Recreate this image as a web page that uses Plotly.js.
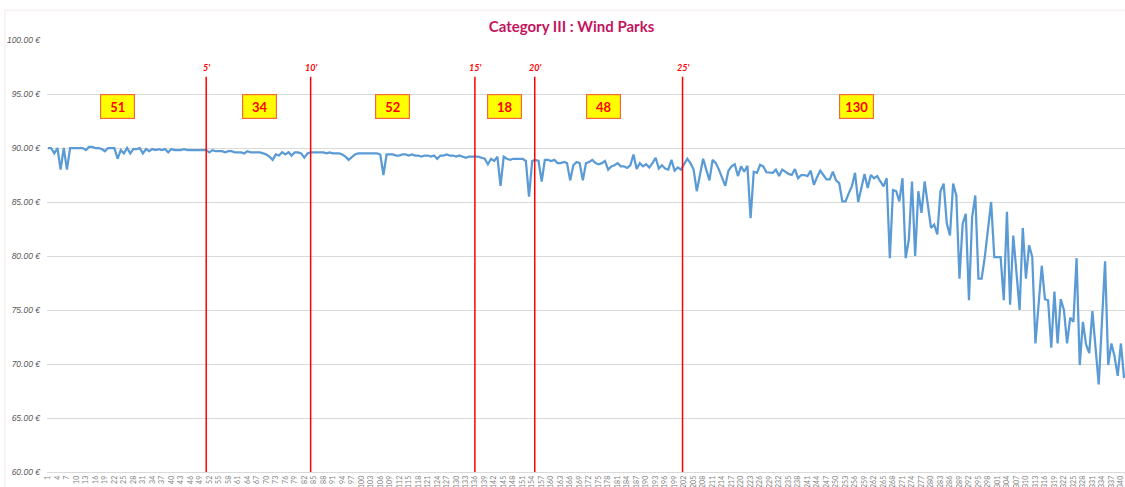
<!DOCTYPE html>
<html>
<head>
<meta charset="utf-8">
<script src="https://cdn.plot.ly/plotly-3.0.1.min.js"></script>
<style>
  html, body { margin: 0; padding: 0; background: #ffffff; }
  #chart { width: 1125px; height: 487px; }
</style>
</head>
<body>
<div id="chart"></div>
<script>
// ---- data ----
const chartTitle = "Category III : Wind Parks";

const prices = [
  // 1-51
  90.0, 90.0, 89.5, 90.0, 88.0, 90.0, 88.0, 90.0, 90.0, 90.0,
  90.0, 90.0, 89.8, 90.1, 90.1, 90.0, 90.0, 89.9, 89.7, 90.0,
  90.0, 90.0, 89.0, 89.8, 89.5, 90.0, 89.5, 89.9, 89.9, 90.0,
  89.5, 89.9, 89.7, 89.9, 89.8, 89.9, 89.8, 89.9, 89.6, 89.9,
  89.8, 89.8, 89.8, 89.9, 89.8, 89.8, 89.8, 89.8, 89.8, 89.8,
  89.8,
  // 52-85
  89.6, 89.8, 89.7, 89.7, 89.7, 89.6, 89.7, 89.7, 89.6, 89.6,
  89.6, 89.5, 89.7, 89.6, 89.6, 89.6, 89.6, 89.5, 89.4, 89.2,
  88.9, 89.4, 89.3, 89.6, 89.4, 89.6, 89.3, 89.6, 89.6, 89.5,
  89.1, 89.5, 89.6, 89.6,
  // 86-137
  89.6, 89.6, 89.6, 89.5, 89.6, 89.5, 89.5, 89.5, 89.4, 89.2,
  88.9, 89.2, 89.4, 89.5, 89.5, 89.5, 89.5, 89.5, 89.5, 89.5,
  89.4, 87.5, 89.4, 89.4, 89.4, 89.3, 89.3, 89.4, 89.4, 89.3,
  89.4, 89.3, 89.3, 89.2, 89.3, 89.3, 89.2, 89.3, 89.0, 89.3,
  89.3, 89.4, 89.3, 89.3, 89.2, 89.3, 89.2, 89.1, 89.2, 89.2,
  89.2, 89.2,
  // 138-155
  89.1, 89.0, 88.5, 89.0, 88.8, 89.2, 86.5, 89.2, 89.0, 88.9,
  89.0, 89.0, 89.0, 89.0, 88.8, 85.5, 88.8, 88.9,
  // 156-203
  88.8, 86.9, 88.9, 88.9, 88.8, 88.9, 88.6, 88.6, 88.7, 88.6,
  87.0, 88.4, 88.7, 88.6, 87.0, 88.6, 88.7, 88.9, 88.6, 88.5,
  88.6, 88.8, 88.0, 88.3, 88.4, 88.6, 88.3, 88.3, 88.15, 88.4,
  89.4, 88.05, 88.6, 88.3, 88.5, 88.2, 88.6, 89.1, 88.1, 88.4,
  88.1, 88.0, 88.9, 87.9, 88.2, 88.0, 88.5, 89.0,
  // 204-223
  88.6, 88.0, 86.0, 87.5, 89.0, 88.0, 87.0, 88.9, 88.6, 88.0,
  87.2, 86.5, 87.9, 88.3, 88.5, 87.4, 88.3, 87.8, 88.35, 83.5,
  // 224-283
  87.8, 87.7, 88.45, 88.3, 87.75, 87.7, 87.7, 88.0, 87.4, 88.0,
  87.8, 87.6, 87.5, 88.05, 87.2, 87.5, 87.5, 87.4, 87.9, 86.6,
  87.3, 87.9, 87.5, 87.1, 87.1, 87.8, 87.0, 86.75, 85.05, 85.05,
  85.8, 86.45, 87.7, 85.0, 86.3, 87.6, 86.3, 87.5, 87.2, 87.4,
  86.9, 86.45, 87.2, 79.8, 86.1, 86.0, 85.05, 87.2, 79.8, 81.5,
  86.9, 80.0, 86.0, 84.0, 86.9, 84.6, 82.6, 82.9, 82.0, 86.0,
  // 284-341
  86.7, 83.0, 81.9, 86.7, 85.6, 77.9, 83.0, 83.9, 75.9, 83.6,
  85.6, 77.9, 77.9, 79.9, 82.7, 85.0, 79.9, 79.9, 79.9, 75.9,
  84.1, 75.5, 81.9, 78.5, 75.0, 82.6, 77.9, 81.0, 79.9, 71.9,
  75.5, 79.1, 76.0, 75.9, 71.5, 76.7, 71.9, 76.0, 75.0, 71.9,
  74.3, 73.9, 79.8, 69.9, 73.9, 71.8, 71.0, 74.9, 71.5, 68.1,
  73.8, 79.5, 69.9, 71.9, 70.7, 68.9, 71.9, 68.7
];

const segmentCounts = ["51", "34", "52", "18", "48", "130"];
const minuteLabels = ["5'", "10'", "15'", "20'", "25'"];
const minuteMarks = [51, 84, 135.9, 154.8, 201.5];
const yTicks = [60, 65, 70, 75, 80, 85, 90, 95, 100];
const yTickText = ["60.00 €", "65.00 €", "70.00 €", "75.00 €", "80.00 €", "85.00 €", "90.00 €", "95.00 €", "100.00 €"];

// ---- derived ----
const idx = prices.map((_, i) => i + 1);
const xTickVals = idx.filter(v => (v - 1) % 3 === 0);
const xTickText = xTickVals.map(String);

// ---- layout-only positions ----
const boxX = [23.1, 67.7, 109.8, 145.2, 176.5, 256.5];
const boxY = 93.85;
const markTop = 96.6;
const markLabelY = 97.45;

const trace = {
  x: idx,
  y: prices,
  type: 'scatter',
  mode: 'lines',
  line: { color: '#5B9BD5', width: 2.25 },
  hoverinfo: 'x+y'
};

const shapes = minuteMarks.map(m => ({
  type: 'line', xref: 'x', yref: 'y',
  x0: m, x1: m, y0: 60, y1: markTop,
  line: { color: '#FF0000', width: 1.5 }
}));
shapes.push({
  type: 'rect', xref: 'paper', yref: 'paper',
  x0: -0.039, x1: 1.2, y0: -0.2, y1: 1.069,
  line: { color: '#F3E9E9', width: 1 }, layer: 'below'
});

const annotations = [];
minuteLabels.forEach((t, i) => {
  annotations.push({
    x: minuteMarks[i], y: markLabelY, xref: 'x', yref: 'y',
    text: t, showarrow: false,
    font: { family: 'Lato, sans-serif', size: 9, color: '#FF0000', style: 'italic', weight: 'bold' }
  });
});
segmentCounts.forEach((t, i) => {
  annotations.push({
    x: boxX[i], y: boxY, xref: 'x', yref: 'y',
    text: '<b>' + t + '</b>', showarrow: false,
    bgcolor: '#FFFF00', bordercolor: '#F4683A', borderwidth: 1.2, borderpad: 1,
    width: 31, height: 21,
    font: { family: 'Lato, sans-serif', size: 13, color: '#FF0000' }
  });
});

const layout = {
  width: 1125, height: 487,
  margin: { l: 47, r: 0, t: 40, b: 15, autoexpand: false },
  paper_bgcolor: '#ffffff',
  plot_bgcolor: '#ffffff',
  showlegend: false,
  title: {
    text: '<b>' + chartTitle + '</b>',
    x: 0.508, xanchor: 'center', y: 0.945, yanchor: 'middle',
    font: { family: 'Lato, sans-serif', size: 15, color: '#C4145E' }
  },
  xaxis: {
    range: [0.7, 341.3],
    tickmode: 'array', tickvals: xTickVals, ticktext: xTickText,
    tickangle: -90,
    tickfont: { family: 'Lato, sans-serif', size: 7, color: '#7F7F7F' },
    ticklabelstandoff: 0,
    showgrid: false, zeroline: false,
    showline: true, linecolor: '#D9D9D9', linewidth: 1,
    ticks: '', automargin: false
  },
  yaxis: {
    range: [60, 100],
    tickmode: 'array', tickvals: yTicks, ticktext: yTickText,
    tickfont: { family: 'Liberation Sans, Arial, sans-serif', size: 8.5, color: '#595959', style: 'italic' },
    ticklabelstandoff: 6,
    showgrid: true, gridcolor: '#D9D9D9', gridwidth: 1,
    zeroline: false, showline: false, ticks: '', automargin: false
  },
  shapes: shapes,
  annotations: annotations
};

Plotly.newPlot('chart', [trace], layout, { displayModeBar: false, staticPlot: true });
</script>
</body>
</html>
